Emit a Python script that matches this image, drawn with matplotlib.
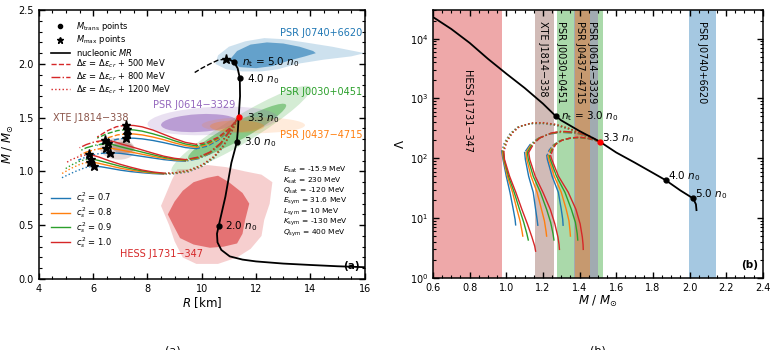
import numpy as np
import matplotlib.pyplot as plt
from matplotlib.patches import Ellipse, Polygon
from matplotlib.lines import Line2D
from matplotlib.transforms import Affine2D

plt.rcParams['font.family'] = ['DejaVu Sans']
plt.rcParams['mathtext.fontset'] = 'dejavusans'

# ---- legend / style categories
cs2_vals = [0.7, 0.8, 0.9, 1.0]
cs2_colors = ['tab:blue', 'tab:orange', 'tab:green', 'tab:red']
de_vals = [500, 800, 1200]
de_styles = ['--', '-.', ':']

# ---- nucleonic M-R curve
nuc_R = [16.5, 15.0, 14.0, 13.0, 12.0, 11.5, 11.03, 10.72, 10.58, 10.56, 10.62, 10.87,
         11.09, 11.29, 11.33, 11.36, 11.41, 11.40, 11.32, 11.18, 11.02, 10.88]
nuc_M = [0.105, 0.118, 0.13, 0.143, 0.163, 0.18, 0.21, 0.27, 0.34, 0.42, 0.49, 0.765,
         1.08, 1.27, 1.385, 1.51, 1.70, 1.87, 1.96, 2.02, 2.04, 2.045]
nuc_unst_R = [10.88, 10.6, 10.3, 10.0, 9.74]
nuc_unst_M = [2.045, 2.035, 2.0, 1.96, 1.92]

# transition densities on the nucleonic curve
nt_vals = [2.0, 3.0, 3.3, 4.0, 5.0]
nt_R = [10.62, 11.29, 11.36, 11.40, 11.18]
nt_M = [0.49, 1.27, 1.51, 1.87, 2.02]
nt_Lam = [None, 507, 190, 43, 21.3]

# nucleonic tidal deformability
nucb_M = [0.58, 0.6, 0.7, 0.8, 0.9, 1.0, 1.1, 1.2, 1.27, 1.3, 1.4, 1.51, 1.6, 1.7, 1.8,
          1.87, 1.95, 2.02, 2.035, 2.038]
nucb_L = [2.6e4, 2.3e4, 1.45e4, 8.5e3, 4.6e3, 2.6e3, 1.5e3, 820, 507, 430, 285, 190, 125,
          85, 57, 43, 29, 21.3, 17, 13.6]

# ---- hybrid branches, panel (a): one list per c_s^2 (0.7, 0.8, 0.9, 1.0)
a_R_500 = [
    [11.36, 11.25, 11.0, 10.6, 10.2, 9.8, 9.4, 9.0, 8.6, 8.2, 7.8, 7.5, 7.22, 6.9, 6.5, 6.15],
    [11.36, 11.25, 11.0, 10.6, 10.2, 9.8, 9.4, 9.0, 8.6, 8.2, 7.8, 7.5, 7.25, 6.9, 6.5, 6.15],
    [11.36, 11.25, 11.0, 10.6, 10.2, 9.8, 9.4, 9.0, 8.6, 8.2, 7.8, 7.5, 7.25, 6.9, 6.5, 6.15],
    [11.36, 11.25, 11.0, 10.6, 10.2, 9.8, 9.4, 9.0, 8.6, 8.2, 7.8, 7.5, 7.2, 6.85, 6.5, 6.15],
]
a_M_500 = [
    [1.51, 1.46, 1.38, 1.29, 1.235, 1.212, 1.222, 1.245, 1.268, 1.288, 1.303, 1.309, 1.31, 1.30, 1.275, 1.24],
    [1.51, 1.462, 1.385, 1.30, 1.245, 1.225, 1.24, 1.265, 1.295, 1.32, 1.34, 1.348, 1.35, 1.34, 1.31, 1.27],
    [1.51, 1.465, 1.39, 1.31, 1.258, 1.238, 1.255, 1.285, 1.32, 1.35, 1.375, 1.386, 1.39, 1.38, 1.35, 1.31],
    [1.51, 1.468, 1.395, 1.318, 1.27, 1.252, 1.27, 1.305, 1.345, 1.385, 1.415, 1.427, 1.43, 1.415, 1.375, 1.32],
]
a_R_800 = [
    [11.36, 11.2, 11.0, 10.7, 10.3, 9.9, 9.4, 9.0, 8.6, 8.2, 7.8, 7.4, 7.0, 6.61, 6.2, 5.8, 5.45],
    [11.36, 11.2, 11.0, 10.7, 10.3, 9.9, 9.4, 9.0, 8.6, 8.2, 7.8, 7.4, 7.0, 6.75, 6.49, 6.1, 5.75, 5.45],
    [11.36, 11.2, 11.0, 10.7, 10.3, 9.9, 9.4, 9.0, 8.6, 8.2, 7.8, 7.4, 7.0, 6.75, 6.53, 6.1, 5.75, 5.5],
    [11.36, 11.2, 11.0, 10.7, 10.3, 9.9, 9.4, 9.0, 8.6, 8.2, 7.8, 7.4, 7.0, 6.75, 6.43, 6.05, 5.75, 5.5],
]
a_M_800 = [
    [1.51, 1.44, 1.36, 1.25, 1.165, 1.12, 1.095, 1.10, 1.11, 1.125, 1.14, 1.155, 1.168, 1.175, 1.165, 1.14, 1.105],
    [1.51, 1.442, 1.363, 1.255, 1.17, 1.125, 1.10, 1.108, 1.122, 1.14, 1.16, 1.18, 1.20, 1.212, 1.22, 1.205, 1.18, 1.145],
    [1.51, 1.444, 1.366, 1.26, 1.175, 1.13, 1.105, 1.115, 1.132, 1.155, 1.18, 1.205, 1.23, 1.248, 1.26, 1.245, 1.22, 1.19],
    [1.51, 1.446, 1.37, 1.265, 1.18, 1.135, 1.11, 1.122, 1.142, 1.17, 1.20, 1.23, 1.258, 1.278, 1.29, 1.275, 1.25, 1.22],
]
a_R_1200 = [
    [11.36, 11.22, 11.05, 10.8, 10.45, 10.0, 9.5, 9.0, 8.6, 8.2, 7.8, 7.4, 7.0, 6.6, 6.3, 6.04, 5.7, 5.3, 4.8],
    [11.36, 11.22, 11.05, 10.8, 10.45, 10.0, 9.5, 9.0, 8.6, 8.2, 7.8, 7.4, 7.0, 6.6, 6.2, 5.9, 5.55, 5.2, 4.85],
    [11.36, 11.22, 11.05, 10.8, 10.45, 10.0, 9.5, 9.0, 8.6, 8.2, 7.8, 7.4, 7.0, 6.6, 6.2, 5.91, 5.55, 5.2, 4.95],
    [11.36, 11.22, 11.05, 10.8, 10.45, 10.0, 9.5, 9.0, 8.6, 8.2, 7.8, 7.4, 7.0, 6.6, 6.2, 5.85, 5.5, 5.2, 5.0],
]
a_M_1200 = [
    [1.51, 1.43, 1.34, 1.23, 1.125, 1.045, 0.995, 0.978, 0.975, 0.98, 0.988, 0.998, 1.012, 1.03, 1.043, 1.05, 1.035, 0.995, 0.935],
    [1.51, 1.432, 1.343, 1.234, 1.13, 1.05, 1.0, 0.981, 0.978, 0.985, 0.997, 1.012, 1.03, 1.053, 1.076, 1.09, 1.07, 1.03, 0.98],
    [1.51, 1.434, 1.346, 1.238, 1.135, 1.055, 1.005, 0.984, 0.981, 0.99, 1.005, 1.025, 1.048, 1.075, 1.102, 1.12, 1.10, 1.06, 1.02],
    [1.51, 1.436, 1.35, 1.242, 1.14, 1.06, 1.01, 0.987, 0.984, 0.995, 1.013, 1.038, 1.066, 1.098, 1.135, 1.16, 1.14, 1.11, 1.08],
]

# ---- hybrid branches, panel (b): M and Lambda
b_M_500 = [
    [1.51, 1.45, 1.40, 1.34, 1.29, 1.255, 1.233, 1.221, 1.224, 1.25, 1.284, 1.30, 1.308, 1.31],
    [1.51, 1.45, 1.40, 1.345, 1.295, 1.26, 1.24, 1.228, 1.232, 1.262, 1.30, 1.327, 1.342, 1.348, 1.35],
    [1.51, 1.45, 1.40, 1.35, 1.30, 1.265, 1.247, 1.235, 1.24, 1.274, 1.32, 1.355, 1.377, 1.387, 1.39],
    [1.51, 1.45, 1.40, 1.355, 1.305, 1.27, 1.253, 1.242, 1.248, 1.285, 1.338, 1.38, 1.403, 1.415, 1.419, 1.42],
]
b_L_500 = [
    [190, 212, 220, 214, 195, 165, 135, 110, 96, 50, 27, 14, 9.5, 7.6],
    [190, 213, 222, 216, 197, 167, 136, 110, 96, 50, 27, 14, 9, 6, 5],
    [190, 214, 224, 218, 199, 169, 137, 110, 96, 50, 27, 14, 8.5, 5.5, 4.3],
    [190, 215, 226, 220, 201, 171, 138, 110, 96, 50, 27, 14, 8, 4.8, 3.6, 3.0],
]
b_M_800 = [
    [1.51, 1.45, 1.38, 1.30, 1.23, 1.17, 1.13, 1.10, 1.104, 1.122, 1.147, 1.16, 1.168, 1.172],
    [1.51, 1.45, 1.38, 1.30, 1.235, 1.175, 1.137, 1.108, 1.112, 1.135, 1.168, 1.192, 1.208, 1.217, 1.22],
    [1.51, 1.45, 1.38, 1.30, 1.24, 1.18, 1.143, 1.115, 1.12, 1.147, 1.186, 1.22, 1.242, 1.255, 1.26],
    [1.51, 1.45, 1.38, 1.30, 1.245, 1.185, 1.15, 1.122, 1.128, 1.158, 1.20, 1.24, 1.265, 1.282, 1.288, 1.29],
]
b_L_800 = [
    [190, 235, 262, 272, 252, 212, 170, 125, 96, 50, 27, 14, 9.5, 7.6],
    [190, 237, 265, 276, 256, 215, 172, 125, 96, 50, 27, 14, 9, 6, 5],
    [190, 239, 268, 280, 260, 218, 174, 125, 96, 50, 27, 14, 8.5, 5.5, 4.3],
    [190, 241, 271, 284, 264, 221, 176, 125, 96, 50, 27, 14, 8, 4.8, 3.6, 3.0],
]
b_M_1200 = [
    [1.51, 1.44, 1.35, 1.27, 1.20, 1.13, 1.06, 1.02, 0.99, 0.975, 0.982, 1.0, 1.02, 1.038, 1.048, 1.051],
    [1.51, 1.44, 1.35, 1.27, 1.20, 1.13, 1.065, 1.025, 0.995, 0.979, 0.985, 1.006, 1.034, 1.058, 1.075, 1.086, 1.09],
    [1.51, 1.44, 1.35, 1.27, 1.20, 1.135, 1.07, 1.03, 1.0, 0.983, 0.988, 1.012, 1.043, 1.072, 1.095, 1.112, 1.12],
    [1.51, 1.44, 1.35, 1.27, 1.20, 1.14, 1.075, 1.035, 1.005, 0.987, 0.99, 1.018, 1.052, 1.085, 1.115, 1.14, 1.155, 1.16],
]
b_L_1200 = [
    [190, 228, 300, 355, 380, 378, 330, 258, 185, 130, 96, 50, 27, 14, 9.5, 7.7],
    [190, 230, 305, 360, 385, 382, 334, 262, 188, 130, 96, 50, 27, 14, 9, 6, 5],
    [190, 232, 308, 365, 390, 386, 338, 265, 190, 130, 96, 50, 27, 14, 8.5, 5.5, 4.3],
    [190, 234, 312, 370, 395, 390, 342, 268, 192, 130, 96, 50, 27, 14, 8, 4.8, 3.4, 2.8],
]

# ---- observational constraints, panel (a)
hess_out_R = [9.1, 9.6, 10.2, 10.9, 11.6, 12.2, 12.6, 12.5, 12.3, 12.2, 11.8, 11.3, 10.6, 9.8, 9.3, 9.0, 8.8, 8.5, 8.7, 8.9]
hess_out_M = [1.02, 1.02, 1.06, 1.04, 1.0, 0.97, 0.9, 0.7, 0.55, 0.4, 0.28, 0.2, 0.14, 0.14, 0.2, 0.35, 0.5, 0.68, 0.8, 0.92]
hess_in_R = [9.7, 10.2, 10.6, 11.0, 11.5, 11.75, 11.6, 11.5, 11.3, 10.8, 10.3, 9.7, 9.2, 8.95, 8.75, 9.0, 9.3]
hess_in_M = [0.9, 0.94, 0.96, 0.9, 0.8, 0.7, 0.55, 0.42, 0.33, 0.3, 0.29, 0.32, 0.38, 0.5, 0.6, 0.72, 0.82]
j0740_out_R = [10.5, 10.6, 11.0, 11.6, 12.3, 13.0, 13.8, 14.8, 15.6, 16.0, 15.5, 14.5, 13.5, 12.8, 12.2, 11.5, 10.9]
j0740_out_M = [2.0, 2.08, 2.16, 2.21, 2.24, 2.23, 2.2, 2.16, 2.12, 2.1, 2.07, 2.04, 2.0, 1.95, 1.93, 1.93, 1.95]
j0740_in_R = [11.0, 11.3, 11.8, 12.4, 13.0, 13.6, 14.1, 14.2, 13.8, 13.2, 12.6, 12.0, 11.4]
j0740_in_M = [2.03, 2.12, 2.18, 2.2, 2.19, 2.16, 2.12, 2.1, 2.07, 2.03, 1.98, 1.96, 1.97]
# ellipses: (R0, M0, half-length [km], half-width [km], angle [deg]) and (outer, inner) alpha
ell_colors = ['tab:green', 'tab:purple', 'tab:orange', 'tab:brown']
ell_alpha = [(0.2, 0.45), (0.2, 0.55), (0.15, 0.3), (0.22, 0.45)]
ell_outer = [(11.45, 1.39, 3.0, 0.5, 31.5), (10.4, 1.47, 2.4, 0.52, 3),
             (11.9, 1.43, 1.9, 0.3, 0), (6.9, 1.21, 0.65, 0.4, -5)]
ell_inner = [(11.3, 1.37, 2.06, 0.33, 29), (9.9, 1.45, 1.4, 0.33, 3),
             (11.3, 1.42, 1.0, 0.22, 0), (7.1, 1.22, 0.4, 0.22, -5)]

# ---- mass bands, panel (b)
band_names = ['HESS J1731\u2212347', 'XTE J1814\u2212338', 'PSR J0030+0451',
              'PSR J0614\u22123329', 'PSR J0437\u22124715', 'PSR J0740+6620']
band_colors = ['tab:red', 'tab:brown', 'tab:green', 'tab:purple', 'tab:orange', 'tab:blue']
band_lo = [0.5, 1.156, 1.278, 1.37, 1.375, 1.997]
band_hi = [0.975, 1.262, 1.53, 1.50, 1.457, 2.144]

params = [r'$E_{\rm sat}$ = -15.9 MeV', r'$K_{\rm sat}$ = 230 MeV', r'$Q_{\rm sat}$ = -120 MeV',
          r'$E_{\rm sym}$ = 31.6 MeV', r'$L_{\rm sym}$ = 10 MeV', r'$K_{\rm sym}$ = -130 MeV',
          r'$Q_{\rm sym}$ = 400 MeV']

fig = plt.figure(figsize=(7.76, 3.5), dpi=100)
ax1 = fig.add_axes([0.050, 0.203, 0.420, 0.768])
ax2 = fig.add_axes([0.558, 0.206, 0.425, 0.765])

# ---------------- panel (a)
ax1.add_patch(Polygon(np.column_stack([hess_out_R, hess_out_M]), color='tab:red', alpha=0.22, lw=0, zorder=1))
ax1.add_patch(Polygon(np.column_stack([hess_in_R, hess_in_M]), color='tab:red', alpha=0.55, lw=0, zorder=1))
ax1.add_patch(Polygon(np.column_stack([j0740_out_R, j0740_out_M]), color='tab:blue', alpha=0.22, lw=0, zorder=1))
ax1.add_patch(Polygon(np.column_stack([j0740_in_R, j0740_in_M]), color='tab:blue', alpha=0.6, lw=0, zorder=1))
for c, (ao, ai), eo, ei in zip(ell_colors, ell_alpha, ell_outer, ell_inner):
    for (r0, m0, a, b, ang), al in ((eo, ao), (ei, ai)):
        tr = Affine2D().scale(1, 0.25).translate(r0, m0) + ax1.transData
        ax1.add_patch(Ellipse((0, 0), 2 * a, 2 * b, angle=ang, color=c, alpha=al, lw=0,
                              transform=tr, zorder=1))

groups_a = [(a_R_500, a_M_500), (a_R_800, a_M_800), (a_R_1200, a_M_1200)]
for (Rs, Ms), ls in zip(groups_a, de_styles):
    for R, M, c in zip(Rs, Ms, cs2_colors):
        R = np.array(R); M = np.array(M)
        # first local minimum (end of unstable drop), then the third-family maximum
        imin = int(np.argmax(np.diff(M) > 0))
        imax = imin + int(np.argmax(M[imin:]))
        ax1.plot(R[:imin + 1], M[:imin + 1], ls=ls, color=c, lw=1.0, zorder=3)
        ax1.plot(R[imin:imax + 1], M[imin:imax + 1], ls='-', color=c, lw=1.0, zorder=3)
        ax1.plot(R[imax:], M[imax:], ls=ls, color=c, lw=1.0, zorder=3)
        ax1.plot(R[imax], M[imax], marker='*', color='k', ms=6.5, ls='none', zorder=6)

ax1.plot(nuc_R, nuc_M, color='k', lw=1.3, zorder=4)
ax1.plot(nuc_unst_R, nuc_unst_M, color='k', lw=1.0, ls='--', zorder=4)
ax1.plot(nuc_R[-1], nuc_M[-1], marker='*', color='k', ms=6.5, zorder=6)
for v, r, m in zip(nt_vals, nt_R, nt_M):
    ax1.plot(r, m, 'o', color='red' if v == 3.3 else 'k', ms=3.5, zorder=6)
ax1.text(11.5, 2.02, r'$n_{\rm t}$ = 5.0 $n_0$', fontsize=7.5, va='center')
ax1.text(11.65, 1.86, r'4.0 $n_0$', fontsize=7.5, va='center')
ax1.text(11.65, 1.50, r'3.3 $n_0$', fontsize=7.5, va='center')
ax1.text(11.55, 1.27, r'3.0 $n_0$', fontsize=7.5, va='center')
ax1.text(10.85, 0.49, r'2.0 $n_0$', fontsize=7.5, va='center')

ax1.text(14.4, 2.29, 'PSR J0740+6620', color='tab:blue', fontsize=7, ha='center', va='center')
ax1.text(14.4, 1.74, 'PSR J0030+0451', color='tab:green', fontsize=7, ha='center', va='center')
ax1.text(14.4, 1.34, 'PSR J0437\u22124715', color='tab:orange', fontsize=7, ha='center', va='center')
ax1.text(9.73, 1.62, 'PSR J0614\u22123329', color='tab:purple', fontsize=7, ha='center', va='center')
ax1.text(5.9, 1.50, 'XTE J1814\u2212338', color='tab:brown', fontsize=7, ha='center', va='center')
ax1.text(8.5, 0.23, 'HESS J1731\u2212347', color='tab:red', fontsize=7, ha='center', va='center')
for i, p in enumerate(params):
    ax1.text(13.0, 1.01 - 0.097 * i, p, fontsize=5.4, va='center')
ax1.text(0.985, 0.03, '(a)', transform=ax1.transAxes, ha='right', va='bottom',
         fontsize=7.5, fontweight='bold')

h1 = [Line2D([], [], ls='none', marker='o', color='k', ms=3),
      Line2D([], [], ls='none', marker='*', color='k', ms=5),
      Line2D([], [], color='k', lw=1.2)]
l1 = [r'$M_{\rm trans}$ points', r'$M_{\rm max}$ points', r'nucleonic $MR$']
for v, ls in zip(de_vals, de_styles):
    h1.append(Line2D([], [], color='tab:red', ls=ls, lw=1.0))
    l1.append(r'$\Delta\varepsilon$ = $\Delta\varepsilon_{cr}$ + %d MeV' % v)
leg1 = ax1.legend(h1, l1, loc='upper left', bbox_to_anchor=(0.018, 0.987), frameon=False,
                  fontsize=6, handlelength=2.2, labelspacing=0.02, borderpad=0.3)
ax1.add_artist(leg1)
h2 = [Line2D([], [], color=c, lw=1.0) for c in cs2_colors]
l2 = [r'$c_s^2$ = %.1f' % v for v in cs2_vals]
ax1.legend(h2, l2, loc='upper left', bbox_to_anchor=(0.018, 0.355), frameon=False,
           fontsize=6, handlelength=2.2, labelspacing=0.0, borderpad=0.3)

ax1.set_xlim(4, 16)
ax1.set_ylim(0, 2.5)
ax1.set_xticks(np.arange(4, 17, 2))
ax1.set_xticks(np.arange(4, 16.01, 0.5), minor=True)
ax1.set_yticks(np.arange(0, 2.51, 0.5))
ax1.set_yticks(np.arange(0, 2.51, 0.1), minor=True)
ax1.set_xlabel(r'$R$ [km]', fontsize=8.5, labelpad=1)
ax1.set_ylabel(r'$M$ / $M_{\odot}$', fontsize=8.5, labelpad=2)

# ---------------- panel (b)
for lo, hi, c in zip(band_lo, band_hi, band_colors):
    ax2.axvspan(lo, hi, color=c, alpha=0.4, lw=0, zorder=0)
band_x = [0.79, 1.202, 1.30, 1.47, 1.40, 2.07]
for name, x in zip(band_names, band_x):
    if name.startswith('HESS'):
        ax2.text(x, 630, name, rotation=-90, fontsize=7, ha='center', va='center')
    else:
        ax2.text(x, 2.0e4, name, rotation=-90, fontsize=7, ha='center', va='top')

groups_b = [(b_M_500, b_L_500), (b_M_800, b_L_800), (b_M_1200, b_L_1200)]
for (Ms, Ls), ls in zip(groups_b, de_styles):
    for M, L, c in zip(Ms, Ls, cs2_colors):
        M = np.array(M); L = np.array(L)
        imin = int(np.argmin(M))
        ax2.plot(M[:imin + 1], L[:imin + 1], ls=ls, color=c, lw=1.0, zorder=3)
        ax2.plot(M[imin:], L[imin:], ls='-', color=c, lw=1.0, zorder=3)

ax2.plot(nucb_M, nucb_L, color='k', lw=1.3, zorder=4)
for v, m, lam in zip(nt_vals[1:], nt_M[1:], nt_Lam[1:]):
    ax2.plot(m, lam, 'o', color='red' if v == 3.3 else 'k', ms=3.5, zorder=6)
ax2.text(1.30, 507, r'$n_{\rm t}$ = 3.0 $n_0$', fontsize=7.5, va='center')
ax2.text(1.525, 215, r'3.3 $n_0$', fontsize=7.5, va='center')
ax2.text(1.885, 50, r'4.0 $n_0$', fontsize=7.5, va='center')
ax2.text(2.03, 25, r'5.0 $n_0$', fontsize=7.5, va='center')
ax2.text(0.985, 0.03, '(b)', transform=ax2.transAxes, ha='right', va='bottom',
         fontsize=7.5, fontweight='bold')

ax2.set_yscale('log')
ax2.set_xlim(0.6, 2.4)
ax2.set_ylim(1, 3e4)
ax2.set_xticks(np.arange(0.6, 2.41, 0.2))
ax2.set_xticks(np.arange(0.6, 2.401, 0.05), minor=True)
ax2.set_xlabel(r'$M$ / $M_{\odot}$', fontsize=8.5, labelpad=1)
ax2.set_ylabel(r'$\Lambda$', fontsize=8.5, labelpad=2)

for ax in (ax1, ax2):
    ax.tick_params(which='both', direction='in', top=True, right=True, labelsize=7)
    ax.tick_params(which='major', length=4.5, width=1.0)
    ax.tick_params(which='minor', length=2.5, width=0.8)
    for s in ax.spines.values():
        s.set_linewidth(1.1)

fig.text(0.223, 0.012, '(a)', fontsize=8, ha='center', va='top')
fig.text(0.771, 0.012, '(b)', fontsize=8, ha='center', va='top')

fig.savefig('out.png', dpi=100)
